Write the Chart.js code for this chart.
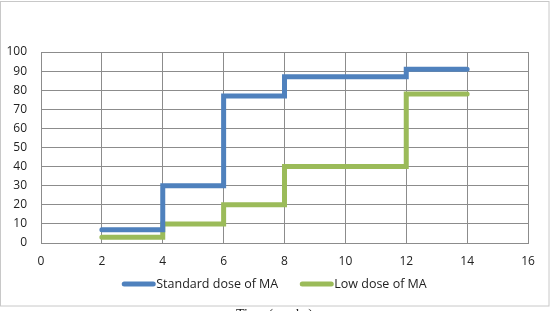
<!DOCTYPE html>
<html>
<head>
<meta charset="utf-8">
<script src="https://cdn.jsdelivr.net/npm/chart.js@4"></script>
<style>
html,body{margin:0;padding:0;background:#fff;overflow:hidden;}
#wrap{position:relative;width:555px;height:311px;overflow:hidden;}
#cap{position:absolute;left:0;width:549px;top:308px;text-align:center;font-family:"Liberation Serif","DejaVu Serif",serif;font-size:14px;line-height:14px;color:#222;}
</style>
</head>
<body>
<div id="wrap">
<canvas id="c" width="555" height="311"></canvas>
<div id="cap">Time (weeks)</div>
</div>
<script>
const seriesNames = ["Standard dose of MA", "Low dose of MA"];
const standardX = [2, 4, 6, 8, 12, 14];
const standardY = [7, 30, 77, 87, 91, 91];
const lowX = [2, 4, 6, 8, 12, 14];
const lowY = [3, 10, 20, 40, 78, 78];
const xTicks = [0, 2, 4, 6, 8, 10, 12, 14, 16];
const yTicks = [0, 10, 20, 30, 40, 50, 60, 70, 80, 90, 100];
const colors = ["#4F81BD", "#9BBB59"];

const FONT = "'Open Sans', 'Liberation Sans', sans-serif";
const toPts = (xs, ys) => xs.map((x, i) => ({x: x, y: ys[i]}));

const framePlugin = {
  id: 'frame',
  beforeDraw(chart) {
    const ctx = chart.ctx;
    ctx.save();
    ctx.fillStyle = '#fff';
    ctx.fillRect(0, 0, chart.width, chart.height);
    ctx.strokeStyle = '#c8c8c8';
    ctx.lineWidth = 1;
    ctx.strokeRect(0.5, 1.5, 548.5, 304.5);
    ctx.restore();
  },
  afterDraw(chart) {
    const ctx = chart.ctx;
    ctx.save();
    ctx.font = "12.5px " + FONT;
    ctx.textBaseline = 'middle';
    const y = 284;
    const lineW = 33;
    const items = chart.data.datasets.map(d => ({text: d.label, color: d.borderColor}));
    const gapBetween = 22;
    const widths = items.map(it => lineW + 1 + ctx.measureText(it.text).width);
    const total = widths.reduce((a, b) => a + b, 0) + gapBetween * (items.length - 1);
    let x = (549 - total) / 2;
    items.forEach((it, i) => {
      ctx.strokeStyle = it.color;
      ctx.lineWidth = 5;
      ctx.lineCap = 'round';
      ctx.beginPath();
      ctx.moveTo(x + 2, y);
      ctx.lineTo(x + lineW - 2, y);
      ctx.stroke();
      ctx.fillStyle = '#222';
      ctx.textAlign = 'left';
      ctx.fillText(it.text, x + lineW + 1, y);
      x += widths[i] + gapBetween;
    });
    ctx.restore();
  }
};

new Chart(document.getElementById('c'), {
  type: 'line',
  data: {
    datasets: [
      {label: seriesNames[0], data: toPts(standardX, standardY), borderColor: colors[0], backgroundColor: colors[0], borderWidth: 5, stepped: true, pointRadius: 0, borderCapStyle: 'round', borderJoinStyle: 'miter', fill: false},
      {label: seriesNames[1], data: toPts(lowX, lowY), borderColor: colors[1], backgroundColor: colors[1], borderWidth: 5, stepped: true, pointRadius: 0, borderCapStyle: 'round', borderJoinStyle: 'miter', fill: false}
    ]
  },
  options: {
    responsive: false,
    animation: false,
    devicePixelRatio: 1,
    layout: {padding: {top: 52, right: 27, bottom: 0, left: 0}},
    plugins: {legend: {display: false}, tooltip: {enabled: false}},
    scales: {
      x: {
        type: 'linear', min: 0, max: 16,
        afterBuildTicks: (s) => { s.ticks = xTicks.map(v => ({value: v})); },
        afterFit: (s) => { s.height = 68; },
        grid: {color: '#8c8c8c', lineWidth: 1, drawTicks: false},
        border: {color: '#8c8c8c'},
        ticks: {padding: 11, color: '#222', font: {family: FONT, size: 12}, maxRotation: 0}
      },
      y: {
        min: 0, max: 100,
        afterBuildTicks: (s) => { s.ticks = yTicks.map(v => ({value: v})); },
        afterFit: (s) => { s.width = 41; },
        grid: {color: '#8c8c8c', lineWidth: 1, drawTicks: false},
        border: {color: '#8c8c8c'},
        ticks: {padding: 14, color: '#222', font: {family: FONT, size: 12}}
      }
    }
  },
  plugins: [framePlugin]
});
</script>
</body>
</html>
